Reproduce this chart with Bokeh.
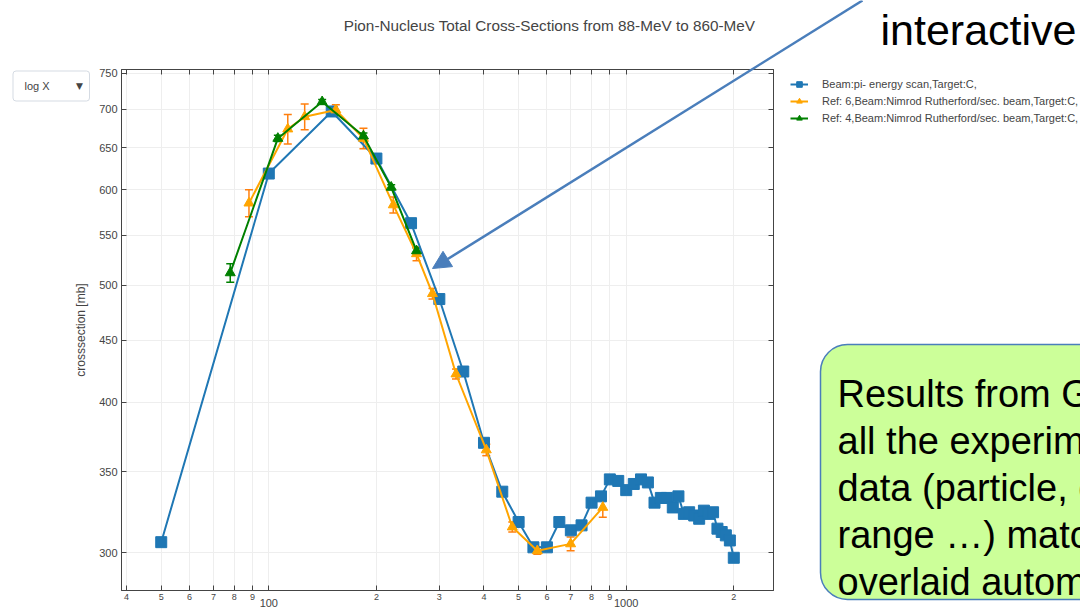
from bokeh.plotting import figure
from bokeh.models import (Range1d, FixedTicker, LogAxis, Label, BoxAnnotation, Arrow,
                          NormalHead, Whisker, TeeHead, ColumnDataSource, Legend, LegendItem,
                          GridBox)
from bokeh.embed import file_html
from bokeh.resources import INLINE

# ---------------- data ----------------
TITLE = "Pion-Nucleus Total Cross-Sections from 88-MeV to 860-MeV"
Y_LABEL = "crosssection [mb]"
SERIES_NAMES = ["Beam:pi- energy scan,Target:C,",
                "Ref: 6,Beam:Nimrod Rutherford/sec. beam,Target:C,",
                "Ref: 4,Beam:Nimrod Rutherford/sec. beam,Target:C,"]

blue_energy = [50, 100, 150, 200, 250, 300, 350, 400, 450, 500, 550, 600, 650, 700, 750,
               800, 850, 900, 950, 1000, 1050, 1100, 1150, 1200, 1250, 1300, 1350, 1400,
               1450, 1500, 1550, 1600, 1650, 1700, 1750, 1800, 1850, 1900, 1950, 2000]
blue_xsec = [306, 619, 697, 637, 563, 487, 424, 370, 337, 318, 303, 303, 318, 313, 316,
             330, 334, 345, 344, 338, 342, 345, 343, 330, 333, 333, 327, 334,
             323, 324, 322, 320, 325, 323, 324, 314, 312, 310, 307, 297]

orange_energy = [88, 113, 126, 154, 184, 223, 259, 287, 334, 406, 480, 564, 699, 860]
orange_xsec = [585, 674, 690, 699, 662, 583, 531, 492, 422, 365, 315, 301, 305, 327]
orange_err = [15, 19, 17, 7, 13, 9, 7, 5, 4, 4, 3, 2, 4, 6]

green_energy = [78, 106, 141, 184, 220, 259]
green_xsec = [512, 662, 710, 665, 603, 534]
green_err = [9, 4, 3, 4, 3, 3]

X_TICKS = [40, 50, 60, 70, 80, 90, 100, 200, 300, 400, 500, 600, 700, 800, 900, 1000, 2000]
X_TICK_LABELS = ["4", "5", "6", "7", "8", "9", "", "2", "3", "4", "5", "6", "7", "8", "9", "", "2"]
X_DECADES = [100, 1000]
Y_TICKS = [300, 350, 400, 450, 500, 550, 600, 650, 700, 750]
X_RANGE = (38.71, 2583.0)
Y_RANGE = (279.0, 755.2)

DROPDOWN_TEXT = "log X"
CALLOUT_WORD = "interactive"
BOX_LINES = ["Results from Geant4", "all the experimental", "data (particle, energy",
             "range \u2026) matching", "overlaid automatically"]

# ---------------- layout ----------------
W, H = 1080, 616
FL, FR, FT, FB = 121, 773, 69, 590   # plot frame in canvas px
TXT = "#444444"
FONT = "Liberation Sans"
BLUE, ORANGE, ORANGE_ERR, GREEN = "#1f77b4", "#ffa500", "#ff7f0e", "#008000"
STYLES = [dict(color=BLUE, marker="square", size=11),
          dict(color=ORANGE, marker="triangle", size=10),
          dict(color=GREEN, marker="triangle", size=10)]

p = figure(width=W, height=H, x_axis_type="log", y_axis_type="log",
           x_range=Range1d(*X_RANGE), y_range=Range1d(*Y_RANGE),
           output_backend="svg", toolbar_location=None,
           min_border_left=FL, min_border_right=W - FR,
           min_border_top=FT, min_border_bottom=H - FB,
           background_fill_color="white", border_fill_color="white",
           outline_line_color=TXT, frame_align=False)
p.title.visible = False

xa = p.xaxis[0]
xa.ticker = FixedTicker(ticks=X_TICKS)
xa.major_label_overrides = {t: l for t, l in zip(X_TICKS, X_TICK_LABELS)}
ya = p.yaxis[0]
ya.ticker = FixedTicker(ticks=Y_TICKS)
ya.major_label_overrides = {t: str(t) for t in Y_TICKS}
for ax in (xa, ya):
    ax.major_tick_in = 5
    ax.major_tick_out = 0
    ax.minor_tick_in = 0
    ax.minor_tick_out = 0
    ax.axis_line_color = TXT
    ax.major_tick_line_color = TXT
    ax.major_label_text_color = TXT
    ax.major_label_text_font = FONT
xa.major_label_text_font_size = "9px"
xa.major_label_standoff = 3
ya.major_label_text_font_size = "11px"
ya.major_label_standoff = 4
ya.axis_label = Y_LABEL
ya.axis_label_text_font_size = "12px"
ya.axis_label_text_font_style = "normal"
ya.axis_label_text_color = TXT
ya.axis_label_text_font = FONT
ya.axis_label_standoff = 8

# decade labels (100, 1000) as a second, label-only axis below the first
dec = LogAxis(ticker=FixedTicker(ticks=X_DECADES),
              major_label_overrides={v: str(v) for v in X_DECADES},
              axis_line_color=None, major_tick_line_color=None, minor_tick_line_color=None,
              major_tick_in=0, major_tick_out=0, minor_tick_in=0, minor_tick_out=0,
              major_label_standoff=-4, major_label_text_font_size="11px",
              major_label_text_color=TXT, major_label_text_font=FONT)
p.add_layout(dec, "below")

top = LogAxis(ticker=FixedTicker(ticks=X_TICKS),
              major_label_overrides={t: "" for t in X_TICKS},
              major_tick_in=5, major_tick_out=0, minor_tick_in=0, minor_tick_out=0,
              major_label_standoff=0,
              axis_line_color=TXT, major_tick_line_color=TXT)
p.add_layout(top, "above")
right = LogAxis(ticker=FixedTicker(ticks=Y_TICKS),
                major_label_overrides={t: "" for t in Y_TICKS},
                major_tick_in=5, major_tick_out=0, minor_tick_in=0, minor_tick_out=0,
                major_label_standoff=0,
                axis_line_color=TXT, major_tick_line_color=TXT)
p.add_layout(right, "right")

p.xgrid.ticker = FixedTicker(ticks=X_TICKS)
p.ygrid.ticker = FixedTicker(ticks=Y_TICKS)
p.xgrid.grid_line_color = "#eeeeee"
p.ygrid.grid_line_color = "#eeeeee"

bl = p.line(blue_energy, blue_xsec, line_color=BLUE, line_width=2)
bs = p.scatter(blue_energy, blue_xsec, marker="square", size=11, fill_color=BLUE, line_color=BLUE)

src_o = ColumnDataSource(dict(x=orange_energy,
                              upper=[v + e for v, e in zip(orange_xsec, orange_err)],
                              lower=[v - e for v, e in zip(orange_xsec, orange_err)]))
p.add_layout(Whisker(source=src_o, base="x", upper="upper", lower="lower",
                     line_color=ORANGE_ERR, line_width=1.5,
                     upper_head=TeeHead(size=8, line_color=ORANGE_ERR, line_width=1.5),
                     lower_head=TeeHead(size=8, line_color=ORANGE_ERR, line_width=1.5)))
ol = p.line(orange_energy, orange_xsec, line_color=ORANGE, line_width=2)
os_ = p.scatter(orange_energy, orange_xsec, marker="triangle", size=10, fill_color=ORANGE, line_color=ORANGE)

src_g = ColumnDataSource(dict(x=green_energy,
                              upper=[v + e for v, e in zip(green_xsec, green_err)],
                              lower=[v - e for v, e in zip(green_xsec, green_err)]))
p.add_layout(Whisker(source=src_g, base="x", upper="upper", lower="lower",
                     line_color=GREEN, line_width=1.5,
                     upper_head=TeeHead(size=8, line_color=GREEN, line_width=1.5),
                     lower_head=TeeHead(size=8, line_color=GREEN, line_width=1.5)))
gl = p.line(green_energy, green_xsec, line_color=GREEN, line_width=2)
gs = p.scatter(green_energy, green_xsec, marker="triangle", size=10, fill_color=GREEN, line_color=GREEN)

# ---------------- overlay (slide annotations, pixel coordinates) ----------------
o = figure(width=W, height=H, x_range=Range1d(0, W), y_range=Range1d(H, 0),
           x_axis_location=None, y_axis_location=None, min_border=0,
           outline_line_color=None, background_fill_alpha=0, border_fill_alpha=0,
           output_backend="svg", toolbar_location=None, frame_align=False)
o.title.visible = False
o.grid.visible = False

# legend (outside the plot frame, so it lives on the overlay; NaN proxies draw nothing)
NAN = float("nan")
items = []
for name, st in zip(SERIES_NAMES, STYLES):
    lr = o.line(x=[NAN, NAN], y=[NAN, NAN], line_color=st["color"], line_width=2)
    sr = o.scatter(x=[NAN], y=[NAN], marker=st["marker"], size=st["size"],
                   fill_color=st["color"], line_color=st["color"])
    items.append(LegendItem(label=name, renderers=[lr, sr]))
o.add_layout(Legend(items=items, location=(790, 491), padding=0, margin=0, spacing=3,
                    label_height=14, glyph_height=14, glyph_width=18, label_standoff=14,
                    label_text_font_size="11px", label_text_color=TXT, label_text_font=FONT,
                    border_line_color=None, background_fill_alpha=0))

o.add_layout(Label(x=549, y=24.8, text=TITLE, text_align="center",
                   text_baseline="alphabetic", text_font_size="15.3px", text_color=TXT,
                   text_font=FONT))

o.add_layout(BoxAnnotation(left=12.5, right=89, top=70.5, bottom=100.5,
                           fill_color="white", fill_alpha=1, line_color="#d5dbe3",
                           line_width=1, line_alpha=1, border_radius=3))
o.add_layout(Label(x=24, y=85.5, text=DROPDOWN_TEXT, text_align="left",
                   text_baseline="middle", text_font_size="11px", text_color=TXT,
                   text_font=FONT))
o.add_layout(Label(x=79, y=85.5, text="\u25bc", text_align="center",
                   text_baseline="middle", text_font_size="9px", text_color=TXT,
                   text_font="DejaVu Sans"))

ARROW_BLUE = "#4a7ebb"
o.add_layout(Arrow(x_start=862, y_start=0, x_end=432, y_end=268,
                   line_color=ARROW_BLUE, line_width=2.5,
                   end=NormalHead(size=18, fill_color=ARROW_BLUE, line_color=ARROW_BLUE)))
o.add_layout(Label(x=880, y=29.5, text=CALLOUT_WORD, text_align="left",
                   text_baseline="alphabetic", text_font_size="43px", text_color="black",
                   text_font=FONT))

o.add_layout(BoxAnnotation(left=820, right=1120, top=344, bottom=599,
                           fill_color="#ccff99", fill_alpha=1, line_color=ARROW_BLUE,
                           line_width=1.5, line_alpha=1, border_radius=27))
baselines = [393.3, 440.4, 487.5, 534.6, 581.7]
for t, b in zip(BOX_LINES, baselines):
    o.add_layout(Label(x=837, y=b, text=t, text_align="left",
                       text_baseline="alphabetic", text_font_size="38px",
                       text_color="black", text_font=FONT))

layout = GridBox(children=[(p, 0, 0), (o, 0, 0)])
open("out.html", "w").write(file_html(layout, INLINE))
